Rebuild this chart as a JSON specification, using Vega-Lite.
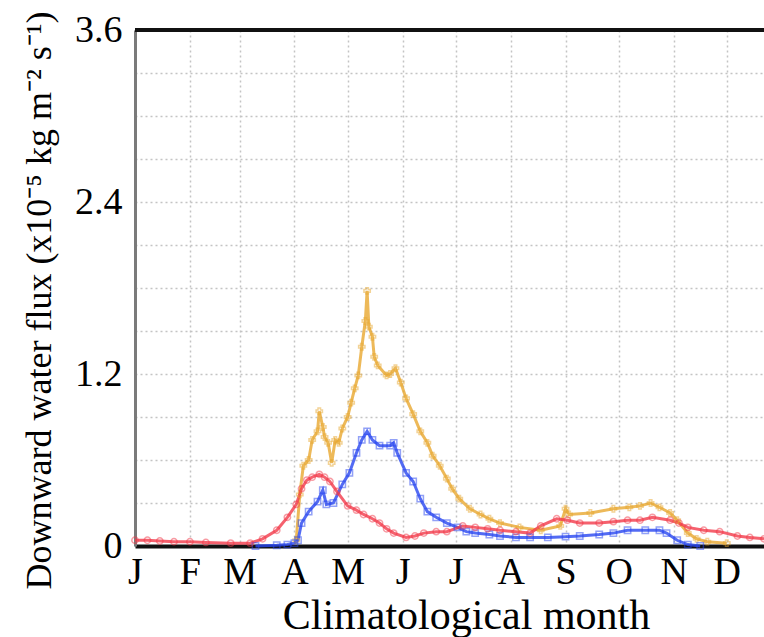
{
  "$schema": "https://vega.github.io/schema/vega-lite/v6.json",
  "autosize": {"type": "none"},
  "width": 629,
  "height": 516,
  "padding": {"left": 135, "top": 30, "right": 0, "bottom": 91},
  "background": "white",
  "config": {
    "view": {"stroke": null},
    "font": "Liberation Serif"
  },
  "datasets": {
    "flux": [
      {"s":"A","d":91,"v":0.04},{"s":"A","d":93,"v":0.36},{"s":"A","d":95,"v":0.56},{"s":"A","d":98,"v":0.6},{"s":"A","d":100,"v":0.74},{"s":"A","d":103,"v":0.8},{"s":"A","d":104,"v":0.94},{"s":"A","d":106,"v":0.83},{"s":"A","d":107,"v":0.76},{"s":"A","d":109,"v":0.72},{"s":"A","d":111,"v":0.58},{"s":"A","d":113,"v":0.74},{"s":"A","d":115,"v":0.72},{"s":"A","d":117,"v":0.82},{"s":"A","d":120,"v":0.9},{"s":"A","d":122,"v":1.0},{"s":"A","d":124,"v":1.1},{"s":"A","d":126,"v":1.19},{"s":"A","d":128,"v":1.39},{"s":"A","d":130,"v":1.57},{"s":"A","d":131,"v":1.78},{"s":"A","d":132,"v":1.53},{"s":"A","d":134,"v":1.46},{"s":"A","d":135,"v":1.32},{"s":"A","d":137,"v":1.26},{"s":"A","d":142,"v":1.19},{"s":"A","d":144,"v":1.2},{"s":"A","d":147,"v":1.24},{"s":"A","d":150,"v":1.14},{"s":"A","d":153,"v":1.03},{"s":"A","d":157,"v":0.92},{"s":"A","d":161,"v":0.8},{"s":"A","d":165,"v":0.72},{"s":"A","d":168,"v":0.63},{"s":"A","d":172,"v":0.56},{"s":"A","d":176,"v":0.47},{"s":"A","d":179,"v":0.4},{"s":"A","d":183,"v":0.33},{"s":"A","d":189,"v":0.26},{"s":"A","d":195,"v":0.22},{"s":"A","d":200,"v":0.19},{"s":"A","d":206,"v":0.16},{"s":"A","d":217,"v":0.13},{"s":"A","d":229,"v":0.11},{"s":"A","d":240,"v":0.14},{"s":"A","d":243,"v":0.26},{"s":"A","d":245,"v":0.22},{"s":"A","d":257,"v":0.23},{"s":"A","d":270,"v":0.26},{"s":"A","d":279,"v":0.27},{"s":"A","d":285,"v":0.28},{"s":"A","d":291,"v":0.3},{"s":"A","d":296,"v":0.27},{"s":"A","d":302,"v":0.23},{"s":"A","d":306,"v":0.18},{"s":"A","d":312,"v":0.09},{"s":"A","d":317,"v":0.05},{"s":"A","d":323,"v":0.03},{"s":"A","d":334,"v":0.02},
      {"s":"B","d":68,"v":0},{"s":"B","d":80,"v":0.005},{"s":"B","d":86,"v":0.01},{"s":"B","d":90,"v":0.02},{"s":"B","d":92,"v":0.04},{"s":"B","d":94,"v":0.16},{"s":"B","d":98,"v":0.24},{"s":"B","d":103,"v":0.31},{"s":"B","d":106,"v":0.39},{"s":"B","d":108,"v":0.29},{"s":"B","d":112,"v":0.3},{"s":"B","d":117,"v":0.43},{"s":"B","d":121,"v":0.51},{"s":"B","d":125,"v":0.65},{"s":"B","d":128,"v":0.74},{"s":"B","d":131,"v":0.8},{"s":"B","d":134,"v":0.74},{"s":"B","d":138,"v":0.7},{"s":"B","d":144,"v":0.7},{"s":"B","d":146,"v":0.72},{"s":"B","d":148,"v":0.65},{"s":"B","d":153,"v":0.51},{"s":"B","d":157,"v":0.45},{"s":"B","d":161,"v":0.33},{"s":"B","d":165,"v":0.24},{"s":"B","d":170,"v":0.2},{"s":"B","d":176,"v":0.16},{"s":"B","d":182,"v":0.13},{"s":"B","d":187,"v":0.1},{"s":"B","d":192,"v":0.09},{"s":"B","d":200,"v":0.08},{"s":"B","d":206,"v":0.07},{"s":"B","d":215,"v":0.06},{"s":"B","d":223,"v":0.06},{"s":"B","d":233,"v":0.06},{"s":"B","d":243,"v":0.065},{"s":"B","d":251,"v":0.07},{"s":"B","d":262,"v":0.08},{"s":"B","d":270,"v":0.09},{"s":"B","d":278,"v":0.11},{"s":"B","d":288,"v":0.11},{"s":"B","d":296,"v":0.11},{"s":"B","d":300,"v":0.09},{"s":"B","d":306,"v":0.04},{"s":"B","d":312,"v":0.01},{"s":"B","d":319,"v":0},
      {"s":"C","d":0,"v":0.04},{"s":"C","d":7,"v":0.04},{"s":"C","d":14,"v":0.035},{"s":"C","d":22,"v":0.03},{"s":"C","d":31,"v":0.03},{"s":"C","d":40,"v":0.025},{"s":"C","d":54,"v":0.02},{"s":"C","d":65,"v":0.02},{"s":"C","d":72,"v":0.05},{"s":"C","d":80,"v":0.11},{"s":"C","d":86,"v":0.2},{"s":"C","d":91,"v":0.29},{"s":"C","d":94,"v":0.4},{"s":"C","d":97,"v":0.46},{"s":"C","d":100,"v":0.48},{"s":"C","d":104,"v":0.5},{"s":"C","d":107,"v":0.48},{"s":"C","d":110,"v":0.45},{"s":"C","d":114,"v":0.38},{"s":"C","d":120,"v":0.28},{"s":"C","d":125,"v":0.25},{"s":"C","d":129,"v":0.22},{"s":"C","d":134,"v":0.19},{"s":"C","d":138,"v":0.16},{"s":"C","d":142,"v":0.12},{"s":"C","d":146,"v":0.09},{"s":"C","d":153,"v":0.06},{"s":"C","d":158,"v":0.07},{"s":"C","d":163,"v":0.09},{"s":"C","d":170,"v":0.1},{"s":"C","d":176,"v":0.1},{"s":"C","d":185,"v":0.14},{"s":"C","d":192,"v":0.13},{"s":"C","d":199,"v":0.12},{"s":"C","d":206,"v":0.11},{"s":"C","d":215,"v":0.1},{"s":"C","d":223,"v":0.09},{"s":"C","d":229,"v":0.14},{"s":"C","d":238,"v":0.19},{"s":"C","d":244,"v":0.18},{"s":"C","d":251,"v":0.16},{"s":"C","d":262,"v":0.16},{"s":"C","d":270,"v":0.17},{"s":"C","d":278,"v":0.18},{"s":"C","d":285,"v":0.18},{"s":"C","d":292,"v":0.2},{"s":"C","d":302,"v":0.18},{"s":"C","d":307,"v":0.16},{"s":"C","d":312,"v":0.13},{"s":"C","d":321,"v":0.11},{"s":"C","d":330,"v":0.1},{"s":"C","d":340,"v":0.07},{"s":"C","d":347,"v":0.06},{"s":"C","d":355,"v":0.05}
    ]
  },
  "data": {"name": "flux"},
  "layer": [
    {
      "mark": {"type": "line", "strokeWidth": 3, "opacity": 0.8},
      "encoding": {
        "x": {
          "field": "d", "type": "quantitative",
          "scale": {"domain": [0, 355], "nice": false, "zero": false},
          "axis": {
            "values": [0, 31, 59, 90, 120, 151, 181, 212, 243, 273, 304, 334],
            "labelExpr": "['J','F','M','A','M','J','J','A','S','O','N','D'][indexof([0,31,59,90,120,151,181,212,243,273,304,334], datum.value)]",
            "grid": true, "gridDash": [2, 3], "gridColor": "#c4c4c4", "gridWidth": 1.5,
            "ticks": false, "tickSize": 0,
            "domainColor": "#111111", "domainWidth": 4,
            "labelFont": "Liberation Serif", "labelFontSize": 38, "labelColor": "black",
            "labelBaseline": "alphabetic", "labelPadding": 37, "labelFlush": false, "labelOverlap": false,
            "title": "Climatological month",
            "titleFont": "Liberation Serif", "titleFontSize": 42, "titleFontWeight": "normal", "titleColor": "black",
            "titleX": 331, "titleY": 82, "titleBaseline": "alphabetic", "titleAlign": "center"
          }
        },
        "y": {
          "field": "v", "type": "quantitative",
          "scale": {"domain": [0, 3.6], "nice": false},
          "axis": {
            "values": [0, 0.3, 0.6, 0.9, 1.2, 1.5, 1.8, 2.1, 2.4, 2.7, 3.0, 3.3, 3.6],
            "format": ".1~f",
            "labelExpr": "indexof([0, 1.2, 2.4, 3.6], datum.value) >= 0 ? datum.label : ''",
            "grid": true, "gridDash": [2, 3], "gridColor": "#c4c4c4", "gridWidth": 1.5,
            "ticks": false, "tickSize": 0,
            "domainColor": "#7a7a7a", "domainWidth": 3,
            "labelFont": "Liberation Serif", "labelFontSize": 38, "labelColor": "black",
            "labelPadding": 13, "labelFlush": false, "labelOverlap": false, "labelBaseline": "middle",
            "title": "Downward water flux (x10⁻⁵ kg m⁻² s⁻¹)",
            "titleFont": "Liberation Serif", "titleFontSize": 36, "titleFontWeight": "normal", "titleColor": "black",
            "titleX": -85, "titleY": 270, "titleAngle": 270, "titleBaseline": "alphabetic", "titleAlign": "center"
          }
        },
        "color": {
          "field": "s", "type": "nominal",
          "scale": {"domain": ["A", "B", "C"], "range": ["#E8A830", "#2846F0", "#F23A4A"]},
          "legend": null
        }
      }
    },
    {
      "mark": {"type": "point", "size": 40, "opacity": 0.5, "strokeWidth": 1.5},
      "encoding": {
        "x": {"field": "d", "type": "quantitative"},
        "y": {"field": "v", "type": "quantitative"},
        "color": {"field": "s", "type": "nominal", "legend": null},
        "shape": {
          "field": "s", "type": "nominal",
          "scale": {"domain": ["A", "B", "C"], "range": ["cross", "square", "circle"]},
          "legend": null
        }
      }
    },
    {
      "mark": {"type": "rule", "color": "#111111", "strokeWidth": 4},
      "encoding": {"y": {"datum": 3.6}}
    }
  ]
}
